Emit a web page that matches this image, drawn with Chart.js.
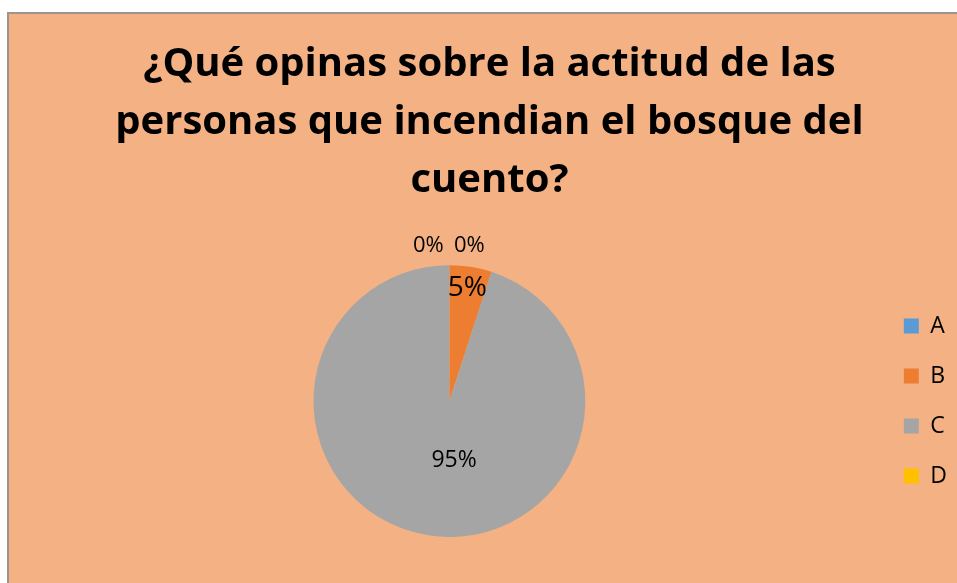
<!DOCTYPE html>
<html>
<head>
<meta charset="utf-8">
<script src="https://cdn.jsdelivr.net/npm/chart.js@4"></script>
<style>
  html, body { margin: 0; padding: 0; background: #ffffff; }
  #box {
    position: absolute; left: 7px; top: 12px;
    width: 950px; height: 571px; box-sizing: border-box;
    border-left: 2px solid #9c948e; border-top: 2px solid #9c948e;
    background: #F4B183;
  }
  canvas { display: block; }
</style>
</head>
<body>
<div id="box"><canvas id="myChart" width="948" height="569"></canvas></div>
<script>
const titleLines = ["¿Qué opinas sobre la actitud de las", "personas que incendian el bosque del", "cuento?"];
const categories = ["A", "B", "C", "D"];
const shares = [0, 5, 95, 0];
const sliceColors = ["#5B9BD5", "#ED7D31", "#A5A5A5", "#FFC000"];

// percentage labels the way Excel lays them out
const pieLabels = {
    id: "pieLabels",
    afterDatasetsDraw(chart) {
        const ctx = chart.ctx;
        const arcs = chart.getDatasetMeta(0).data;
        const total = shares.reduce((a, b) => a + b, 0);
        ctx.save();
        ctx.fillStyle = "#000000";
        ctx.textAlign = "center";
        ctx.textBaseline = "middle";
        let zeroCount = 0;
        arcs.forEach((arc, i) => {
            const pct = Math.round(shares[i] / total * 100);
            const text = pct + "%";
            const mid = (arc.startAngle + arc.endAngle) / 2;
            const r = arc.outerRadius;
            let x, y;
            if (pct === 0) {
                x = arc.x + (zeroCount === 0 ? -21 : 20);
                y = arc.y - r - 19;
                zeroCount++;
                ctx.font = "22px 'Open Sans'";
            } else if (pct < 20) {
                x = arc.x + Math.cos(mid) * r * 0.84;
                y = arc.y + Math.sin(mid) * r * 0.84;
                ctx.font = "28px 'Open Sans'";
            } else {
                x = arc.x + Math.cos(mid) * r * 0.44 + 14;
                y = arc.y + Math.sin(mid) * r * 0.44;
                ctx.font = "23px 'Open Sans'";
            }
            ctx.fillText(text, x, y);
        });
        ctx.restore();
    }
};

const ctx = document.getElementById("myChart");
new Chart(ctx, {
    type: "pie",
    data: {
        labels: categories,
        datasets: [{
            data: shares,
            backgroundColor: sliceColors,
            borderWidth: 0
        }]
    },
    options: {
        responsive: false,
        animation: false,
        devicePixelRatio: 1,
        layout: { padding: { left: 13, right: 0, top: 0, bottom: 46 } },
        plugins: {
            title: {
                display: true,
                text: titleLines,
                color: "#000000",
                font: { family: "'Open Sans'", size: 40, weight: "bold", lineHeight: 1.46 },
                padding: { top: 21, bottom: 55 }
            },
            legend: {
                position: "right",
                fullSize: false,
                labels: {
                    boxWidth: 15,
                    boxHeight: 15,
                    padding: 27,
                    color: "#000000",
                    font: { family: "'Open Sans'", size: 23 }
                }
            },
            tooltip: { enabled: false }
        }
    },
    plugins: [pieLabels]
});
</script>
</body>
</html>
